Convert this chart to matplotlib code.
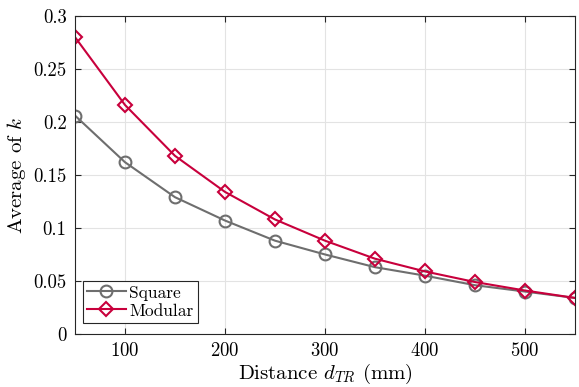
import matplotlib
matplotlib.use('Agg')
import matplotlib.pyplot as plt

distance = [50, 100, 150, 200, 250, 300, 350, 400, 450, 500, 550]
square = [0.206, 0.162, 0.129, 0.107, 0.088, 0.075, 0.063, 0.055, 0.046, 0.040, 0.034]
modular = [0.280, 0.216, 0.168, 0.134, 0.108, 0.088, 0.071, 0.059, 0.049, 0.041, 0.034]
xticks = [100, 200, 300, 400, 500]
yticks = [0, 0.05, 0.1, 0.15, 0.2, 0.25, 0.3]
ytick_labels = ['0', '0.05', '0.1', '0.15', '0.2', '0.25', '0.3']

plt.rcParams['font.family'] = 'cmr10'
plt.rcParams['mathtext.fontset'] = 'cm'
plt.rcParams['axes.formatter.use_mathtext'] = True

fig = plt.figure(figsize=(5.79, 3.87), dpi=100)
ax = fig.add_axes([0.1295, 0.137, 0.8635, 0.822])

ax.plot(distance, square, color='#6e6e6e', marker='o', markersize=8.5,
        markerfacecolor='none', markeredgewidth=1.5, linewidth=1.5, label='Square')
ax.plot(distance, modular, color='#c8003c', marker='D', markersize=7.5,
        markerfacecolor='none', markeredgewidth=1.5, linewidth=1.5, label='Modular')

ax.set_xlim(50, 550)
ax.set_ylim(0, 0.3)
ax.set_xticks(xticks)
ax.set_yticks(yticks)
ax.set_yticklabels(ytick_labels)
ax.tick_params(direction='in', labelsize=13.5, top=True, right=True, length=4,
               color='#262626', pad=6)
ax.grid(True, color='#e3e3e3', linewidth=0.8)
ax.set_axisbelow(True)
for s in ax.spines.values():
    s.set_color('#262626')
    s.set_linewidth(0.8)

ax.set_xlabel(r'Distance $d_{TR}$ (mm)', fontsize=15, labelpad=1)
ax.set_ylabel(r'Average of $k$', fontsize=15, labelpad=4)

# legend box sits a little above the bottom axis, as in the original
leg = ax.legend(loc='lower left', bbox_to_anchor=(0.016, 0.035), fontsize=12.5,
                fancybox=False, edgecolor='#262626', framealpha=1, borderpad=0.25,
                handlelength=2.2, handletextpad=0.2, labelspacing=0.15,
                borderaxespad=0)
leg.get_frame().set_linewidth(0.8)

fig.savefig('out.png', dpi=100)
